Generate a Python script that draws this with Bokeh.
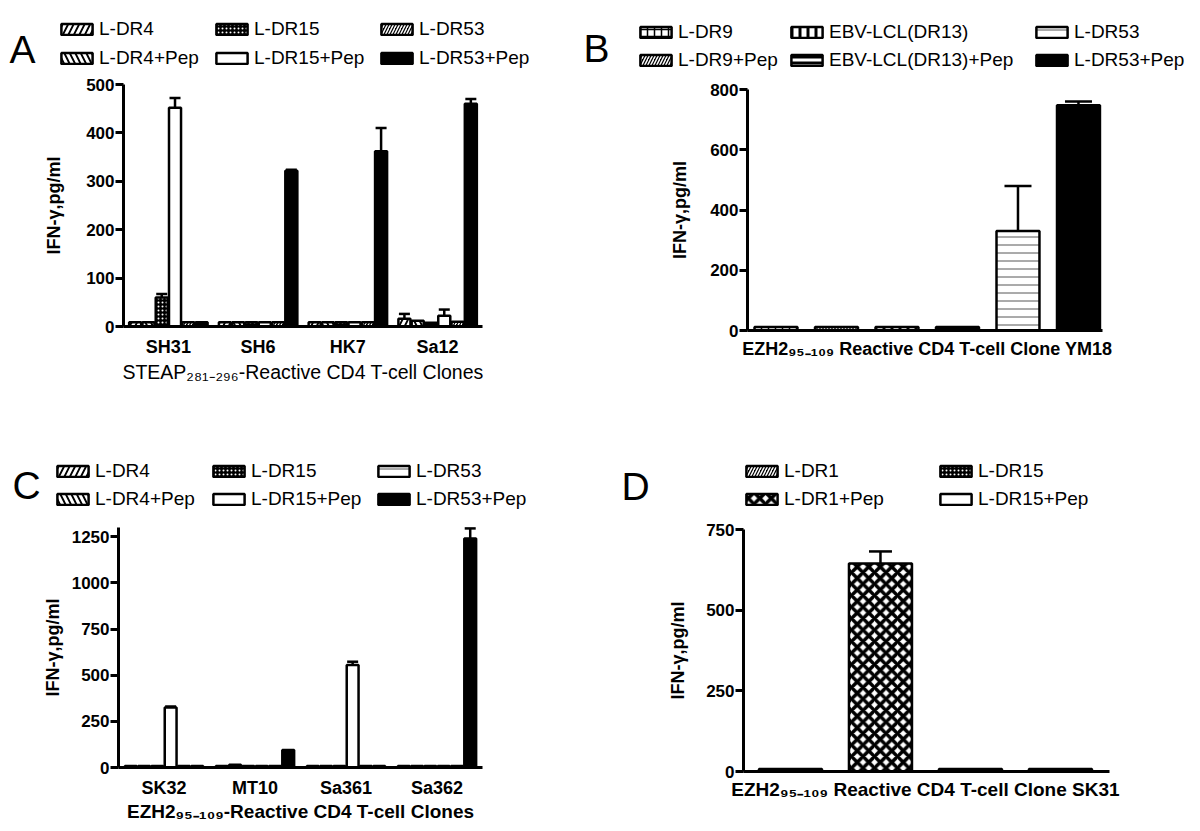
import numpy as np
from bokeh.plotting import figure
from bokeh.models import (Range1d, FixedTicker, Legend, LegendItem, Whisker,
                          TeeHead, ColumnDataSource, Label)
from bokeh.layouts import column, row
from bokeh.embed import file_html
from bokeh.resources import INLINE

FONT = "Liberation Sans"

# ---------------- data ----------------
# Panel A
a_clones = ["SH31", "SH6", "HK7", "Sa12"]
a_series = ["L-DR4", "L-DR4+Pep", "L-DR15", "L-DR15+Pep", "L-DR53", "L-DR53+Pep"]
a_dr4 = [9, 9, 9, 16]
a_dr4_pep = [9, 9, 9, 12]
a_dr15 = [60, 9, 9, 8]
a_dr15_pep = [452, 9, 9, 22]
a_dr53 = [9, 9, 9, 10]
a_dr53_pep = [9, 322, 362, 460]
a_err_dr4 = [0, 0, 0, 10]
a_err_dr4_pep = [0, 0, 0, 0]
a_err_dr15 = [7, 0, 0, 0]
a_err_dr15_pep = [20, 0, 0, 13]
a_err_dr53 = [0, 0, 0, 0]
a_err_dr53_pep = [0, 2, 48, 10]
a_yticks = [0, 100, 200, 300, 400, 500]
a_xtitle = "STEAP₂₈₁₋₂₉₆-Reactive CD4 T-cell Clones"

# Panel B
b_series = ["L-DR9", "L-DR9+Pep", "EBV-LCL(DR13)", "EBV-LCL(DR13)+Pep", "L-DR53", "L-DR53+Pep"]
b_values = [12, 12, 12, 12, 330, 748]
b_errors = [0, 0, 0, 0, 150, 12]
b_yticks = [0, 200, 400, 600, 800]
b_clone = "EZH2₉₅₋₁₀₉ Reactive CD4 T-cell Clone YM18"

# Panel C
c_clones = ["SK32", "MT10", "Sa361", "Sa362"]
c_series = ["L-DR4", "L-DR4+Pep", "L-DR15", "L-DR15+Pep", "L-DR53", "L-DR53+Pep"]
c_dr4 = [8, 8, 8, 8]
c_dr4_pep = [8, 15, 8, 8]
c_dr15 = [8, 8, 8, 8]
c_dr15_pep = [325, 8, 555, 8]
c_dr53 = [8, 8, 8, 8]
c_dr53_pep = [8, 95, 8, 1240]
c_err_dr4 = [0, 0, 0, 0]
c_err_dr4_pep = [0, 0, 0, 0]
c_err_dr15 = [0, 0, 0, 0]
c_err_dr15_pep = [6, 0, 18, 0]
c_err_dr53 = [0, 0, 0, 0]
c_err_dr53_pep = [0, 0, 0, 55]
c_yticks = [0, 250, 500, 750, 1000, 1250]
c_xtitle = "EZH2₉₅₋₁₀₉-Reactive CD4 T-cell Clones"

# Panel D
d_series = ["L-DR1", "L-DR1+Pep", "L-DR15", "L-DR15+Pep"]
d_values = [8, 645, 8, 8]
d_errors = [0, 37, 0, 0]
d_yticks = [0, 250, 500, 750]
d_clone = "EZH2₉₅₋₁₀₉ Reactive CD4 T-cell Clone SK31"

Y_TITLE = "IFN-γ,pg/ml"

# ---------------- styles ----------------
def sty(fill, hatch=None, hcolor="white", hw=1.5, hs=6):
    d = dict(fill_color=fill)
    if hatch:
        d.update(hatch_pattern=hatch, hatch_color=hcolor, hatch_weight=hw, hatch_scale=hs)
    return d

S_DIAG_WIDE = sty("black", "/", "white", 3, 11)
S_BACK_WIDE = sty("black", "\\", "white", 3, 11)
S_CHECK = sty("black", ".", "white", 1, 4)
S_DIAG_FINE = sty("black", "/", "white", 1.5, 6)
S_WHITE = sty("white")
S_BLACK = sty("black")
S_HLINE_THIN = sty("white", "-", "#555555", 1, 8)
S_GRID = sty("white", "+", "black", 1.5, 7)
S_VLINE = sty("white", "|", "black", 3, 8)
S_HLINE_THICK = sty("white", "-", "black", 3, 6)
S_XHATCH = sty("white", "x", "black", 3.5, 11.5)

# page origin of the layout (measured) and canvas sizes
OX, OY = 1, 1
COL1_W, COL2_W, ROW1_H, ROW2_H = 575, 614, 411, 410


class Panel:
    """A figure whose frame is the whole canvas; the axes sit at fixed
    data locations so that legends and letters can live outside the plot box."""

    def __init__(self, canvas, box, xlim, ylim, yticks, ylab_standoff):
        cx0, cy0, W, H = canvas          # page position / size of the canvas
        left, right, top, bottom = box   # page position of the plot box
        x0, x1 = xlim
        y0, y1 = ylim
        kx = (right - left) / (x1 - x0)
        ky = (bottom - top) / (y1 - y0)
        xr = Range1d(x0 - (left - cx0) / kx, x1 + (cx0 + W - right) / kx)
        yr = Range1d(y0 - (cy0 + H - bottom) / ky, y1 + (top - cy0) / ky)
        self.cx0, self.cy0, self.W, self.H = cx0, cy0, W, H
        p = figure(frame_width=W, frame_height=H, min_border=0,
                   x_range=xr, y_range=yr, output_backend="svg",
                   toolbar_location=None, tools="")
        p.outline_line_color = None
        p.grid.visible = False
        p.background_fill_color = "white"
        p.border_fill_color = "white"
        for ax in (p.xaxis[0], p.yaxis[0]):
            ax.axis_line_width = 3
            ax.axis_line_color = "black"
            ax.major_tick_line_width = 3
            ax.major_tick_line_color = "black"
            ax.minor_tick_line_color = None
            ax.major_label_text_font = FONT
            ax.major_label_text_font_style = "bold"
            ax.major_label_text_color = "black"
            ax.axis_label_text_font = FONT
            ax.axis_label_text_color = "black"
        p.yaxis.fixed_location = x0
        p.yaxis.bounds = (y0, y1)
        p.yaxis.ticker = FixedTicker(ticks=yticks)
        p.yaxis.major_tick_out = 8
        p.yaxis.major_tick_in = 0
        p.yaxis.major_label_standoff = 1
        p.yaxis.major_label_text_font_size = "17px"
        p.yaxis.axis_label = Y_TITLE
        p.yaxis.axis_label_text_font_style = "bold"
        p.yaxis.axis_label_text_font_size = "18px"
        p.yaxis.axis_label_standoff = ylab_standoff
        p.xaxis.fixed_location = y0
        p.xaxis.bounds = (x0, x1)
        p.xaxis.major_tick_out = 0
        p.xaxis.major_tick_in = 0
        p.xaxis.major_tick_line_color = None
        self.p = p

    def sx(self, page_x):
        return page_x - self.cx0

    def sy(self, page_y):
        return self.cy0 + self.H - page_y

    def bars(self, x_list, values_list, errors_list, styles, bw, cap):
        p = self.p
        rs = []
        for x, vals, errs, st in zip(x_list, values_list, errors_list, styles):
            x = np.atleast_1d(np.asarray(x, float))
            vals = np.atleast_1d(np.asarray(vals, float))
            errs = np.atleast_1d(np.asarray(errs, float))
            src = ColumnDataSource(dict(x=x, top=vals))
            r = p.vbar(x="x", top="top", bottom=0, width=bw, source=src,
                       line_color="black", line_width=2.5, **st)
            rs.append(r)
            m = errs > 0
            if m.any():
                es = ColumnDataSource(dict(x=x[m], lo=vals[m], hi=(vals + errs)[m]))
                p.add_layout(Whisker(source=es, base="x", lower="lo", upper="hi",
                                     dimension="height", line_width=2.5, line_color="black",
                                     upper_head=TeeHead(size=cap, line_width=2.5, line_color="black"),
                                     lower_head=None, level="glyph"))
        return rs

    def legends(self, labels, renderers, col_page_x, top_page_y, spacing, per_col=2,
                item_h=22):
        height = per_col * item_h + (per_col - 1) * spacing
        for ci, px in enumerate(col_page_x):
            items = [LegendItem(label=labels[k], renderers=[renderers[k]])
                     for k in range(ci * per_col, min((ci + 1) * per_col, len(labels)))]
            leg = Legend(items=items,
                         location=(self.sx(px), self.sy(top_page_y) - height),
                         orientation="vertical",
                         glyph_width=39, glyph_height=14, label_standoff=3,
                         label_height=item_h, spacing=spacing, padding=0, margin=0,
                         border_line_color=None, background_fill_alpha=0,
                         label_text_font=FONT, label_text_font_size="19px",
                         label_text_color="black")
            self.p.add_layout(leg)

    def letter(self, txt, page_x, page_y):
        self.p.add_layout(Label(x=self.sx(page_x), y=self.sy(page_y),
                                x_units="screen", y_units="screen", text=txt,
                                text_font=FONT, text_font_size="39px",
                                text_baseline="alphabetic", text_color="black"))


def grouped_x(ngroups, nser, pitch):
    return [np.arange(1, ngroups + 1) + (si - (nser - 1) / 2) * pitch for si in range(nser)]


# ---------------- Panel A ----------------
A = Panel((OX, OY, COL1_W, ROW1_H), (124, 483, 85, 327), (0.5, 4.5), (0, 500), a_yticks, 19)
a_vals = [a_dr4, a_dr4_pep, a_dr15, a_dr15_pep, a_dr53, a_dr53_pep]
a_errs = [a_err_dr4, a_err_dr4_pep, a_err_dr15, a_err_dr15_pep, a_err_dr53, a_err_dr53_pep]
a_sty = [S_DIAG_WIDE, S_BACK_WIDE, S_CHECK, S_WHITE, S_DIAG_FINE, S_BLACK]
rA = A.bars(grouped_x(4, 6, 0.148), a_vals, a_errs, a_sty, 0.134, 11)
pA = A.p
pA.xaxis.ticker = FixedTicker(ticks=[float(i + 1) for i in range(len(a_clones))])
pA.xaxis.major_label_overrides = {float(i + 1): c for i, c in enumerate(a_clones)}
pA.xaxis.major_label_text_font_size = "18px"
pA.xaxis.major_label_standoff = 10
pA.xaxis.axis_label = a_xtitle
pA.xaxis.axis_label_text_font_size = "19.5px"
pA.xaxis.axis_label_text_font_style = "normal"
pA.xaxis.axis_label_standoff = 1
A.legends(a_series, rA, [58, 213, 378], 19, 7)
A.letter("A", 10, 50)

# ---------------- Panel B ----------------
B = Panel((OX + COL1_W, OY, COL2_W, ROW1_H), (748, 1103, 90, 331), (0.529, 6.397), (0, 800), b_yticks, 17)
b_sty = [S_GRID, S_DIAG_FINE, S_VLINE, S_HLINE_THICK, S_HLINE_THIN, S_BLACK]
b_x = np.arange(1, len(b_series) + 1)
rB = B.bars(list(b_x), [[v] for v in b_values], [[e] for e in b_errors], b_sty, 0.71, 27)
pB = B.p
b_label_x = float(np.mean(b_x))
pB.xaxis.ticker = FixedTicker(ticks=[b_label_x])
pB.xaxis.major_label_overrides = {b_label_x: b_clone}
pB.xaxis.major_label_text_font_size = "18px"
pB.xaxis.major_label_standoff = 8
B.legends(b_series, rB, [637, 788, 1033], 22, 6)
B.letter("B", 584, 49)

# ---------------- Panel C ----------------
C = Panel((OX, OY + ROW1_H, COL1_W, ROW2_H), (119, 483, 528, 768), (0.5, 4.5), (0, 1300), c_yticks, 6)
c_vals = [c_dr4, c_dr4_pep, c_dr15, c_dr15_pep, c_dr53, c_dr53_pep]
c_errs = [c_err_dr4, c_err_dr4_pep, c_err_dr15, c_err_dr15_pep, c_err_dr53, c_err_dr53_pep]
c_sty = [S_DIAG_WIDE, S_BACK_WIDE, S_CHECK, S_WHITE, S_HLINE_THIN, S_BLACK]
rC = C.bars(grouped_x(4, 6, 0.146), c_vals, c_errs, c_sty, 0.13, 11)
pC = C.p
pC.xaxis.ticker = FixedTicker(ticks=[float(i + 1) for i in range(len(c_clones))])
pC.xaxis.major_label_overrides = {float(i + 1): c for i, c in enumerate(c_clones)}
pC.xaxis.major_label_text_font_size = "18px"
pC.xaxis.major_label_standoff = 10
pC.xaxis.axis_label = c_xtitle
pC.xaxis.axis_label_text_font_size = "19px"
pC.xaxis.axis_label_text_font_style = "bold"
pC.xaxis.axis_label_standoff = 0
C.legends(c_series, rC, [54, 210, 375], 461, 6)
C.letter("C", 13, 486)

# ---------------- Panel D ----------------
D = Panel((OX + COL1_W, OY + ROW1_H, COL2_W, ROW2_H), (744, 1110, 530, 772), (0.478, 4.545), (0, 750), d_yticks, 15)
d_sty = [S_DIAG_FINE, S_XHATCH, S_CHECK, S_WHITE]
d_x = np.arange(1, len(d_series) + 1)
rD = D.bars(list(d_x), [[v] for v in d_values], [[e] for e in d_errors], d_sty, 0.70, 23)
pD = D.p
d_label_x = float(np.mean(d_x))
pD.xaxis.ticker = FixedTicker(ticks=[d_label_x])
pD.xaxis.major_label_overrides = {d_label_x: d_clone}
pD.xaxis.major_label_text_font_size = "19px"
pD.xaxis.major_label_standoff = 7
D.legends(d_series, rD, [743, 937], 461, 6)
D.letter("D", 622, 487)

layout = column(row(pA, pB), row(pC, pD))
open("out.html", "w").write(file_html(layout, INLINE))
